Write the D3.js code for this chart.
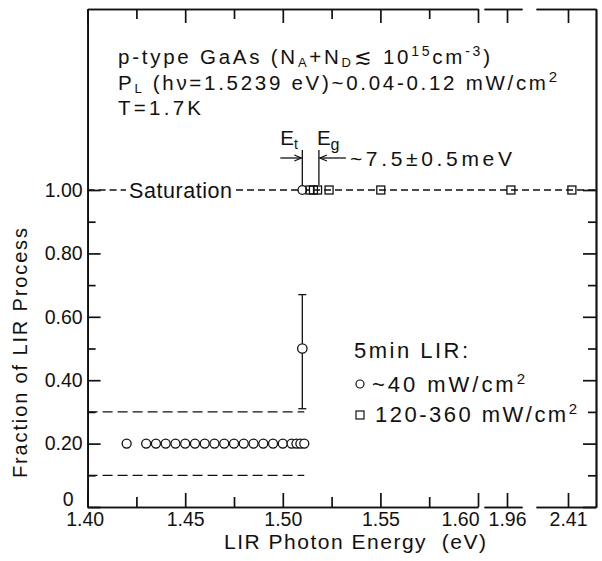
<!DOCTYPE html>
<html>
<head>
<meta charset="utf-8">
<script src="https://cdn.jsdelivr.net/npm/d3@7"></script>
<style>
  body { margin: 0; background: #fff; }
  text { font-family: "Liberation Sans", Arial, sans-serif; fill: #111; }
  .axis text { font-size: 19.5px; fill: #111; }
  .axis path, .axis line { stroke: #111; stroke-width: 1.7; }
</style>
</head>
<body>
<svg id="chart" width="602" height="561"></svg>
<script>
// ~40 mW/cm2 exposures (circles) at 20 % fraction
const lowPowerEnergy = [1.420, 1.430, 1.435, 1.440, 1.445, 1.450, 1.455, 1.460, 1.465,
  1.470, 1.475, 1.480, 1.485, 1.490, 1.495, 1.500, 1.5045, 1.507, 1.509, 1.511];
const lowPowerFraction = [0.20, 0.20, 0.20, 0.20, 0.20, 0.20, 0.20, 0.20, 0.20,
  0.20, 0.20, 0.20, 0.20, 0.20, 0.20, 0.20, 0.20, 0.20, 0.20, 0.20];

// circle with error bar near E_t
const errEnergy = [1.510];
const errFraction = [0.50];
const errLow = [0.31];
const errHigh = [0.67];

// circle reaching saturation at E_t
const satCircleEnergy = [1.510];
const satCircleFraction = [1.00];

// 120-360 mW/cm2 exposures (squares), all saturated
const highPowerEnergy = [1.5139, 1.5157, 1.5178, 1.5237, 1.5502, 1.962, 2.412];
const highPowerFraction = [1.00, 1.00, 1.00, 1.00, 1.00, 1.00, 1.00];

// dashed guide levels ending at E_t
const guideLevels = [0.30, 0.10];
const guideEnd = 1.511;
const saturationLevel = 1.00;

// characteristic energies
const energyEt = 1.510;
const energyEg = 1.5185;

// ticks
const xMajorTicks = [1.40, 1.45, 1.50, 1.55, 1.60];
const xMinorTicks = [1.425, 1.475, 1.525, 1.575];
const xSeg2Ticks = [1.96];
const xSeg3Ticks = [2.41];
const yMajorTicks = [0, 0.20, 0.40, 0.60, 0.80, 1.00];
const yMinorTicks = [0.10, 0.30, 0.50, 0.70, 0.90];

const svg = d3.select("#chart");

// broken energy axis: main range plus two short windows
const pxPerEv = (478 - 87.6) / 0.20;
const xMain = d3.scaleLinear().domain([1.40, 1.60]).range([87.6, 478]);
const xSeg2 = d3.scaleLinear().domain([1.96 - 23 / pxPerEv, 1.96 + 15 / pxPerEv]).range([484, 522]);
const xSeg3 = d3.scaleLinear().domain([2.41 - 32 / pxPerEv, 2.41 + 28 / pxPerEv]).range([536, 596]);
const X = e => e < 1.7 ? xMain(e) : (e < 2.2 ? xSeg2(e) : xSeg3(e));

const y = d3.scaleLinear().domain([0, 1.571]).range([507, 9]);
const yTop = y.range()[1], yBot = y.range()[0];
const xLeft = xMain.range()[0], xRight = xSeg3.range()[1];

// ---- frame and ticks ----
const fmtY = d => d === 0 ? "0" : d3.format(".2f")(d);

const left = svg.append("g").attr("class", "axis").attr("transform", `translate(${xLeft},0)`)
  .call(d3.axisLeft(y).tickValues(yMajorTicks).tickSizeInner(-13).tickSizeOuter(0).tickPadding(5).tickFormat(fmtY));
left.selectAll(".tick text").filter(d => d === 0).attr("dx", "-9").attr("dy", "-0.1em");
svg.append("g").attr("class", "axis").attr("transform", `translate(${xLeft},0)`)
  .call(d3.axisLeft(y).tickValues(yMinorTicks).tickSizeInner(-8).tickSizeOuter(0).tickFormat(""));
svg.append("g").attr("class", "axis").attr("transform", `translate(${xRight},0)`)
  .call(d3.axisRight(y).tickValues(yMajorTicks).tickSizeInner(-13).tickSizeOuter(0).tickFormat(""));
svg.append("g").attr("class", "axis").attr("transform", `translate(${xRight},0)`)
  .call(d3.axisRight(y).tickValues(yMinorTicks).tickSizeInner(-8).tickSizeOuter(0).tickFormat(""));

const segs = [
  { s: xMain, major: xMajorTicks, minor: xMinorTicks },
  { s: xSeg2, major: xSeg2Ticks, minor: [] },
  { s: xSeg3, major: xSeg3Ticks, minor: [] }
];
segs.forEach(seg => {
  const b = svg.append("g").attr("class", "axis").attr("transform", `translate(0,${yBot})`)
    .call(d3.axisBottom(seg.s).tickValues(seg.major).tickSizeInner(-14).tickSizeOuter(0).tickPadding(5)
      .tickFormat(d3.format(".2f")));
  b.selectAll(".tick text").filter(d => d === 1.60).attr("text-anchor", "end").attr("dx", "1");
  b.selectAll(".tick text").filter(d => d === 1.40).attr("dx", "-3");
  svg.append("g").attr("class", "axis").attr("transform", `translate(0,${yBot})`)
    .call(d3.axisBottom(seg.s).tickValues(seg.minor).tickSizeInner(-10).tickSizeOuter(0).tickFormat(""));
  svg.append("g").attr("class", "axis").attr("transform", `translate(0,${yTop})`)
    .call(d3.axisTop(seg.s).tickValues(seg.major).tickSizeInner(-14).tickSizeOuter(0).tickFormat(""));
  svg.append("g").attr("class", "axis").attr("transform", `translate(0,${yTop})`)
    .call(d3.axisTop(seg.s).tickValues(seg.minor).tickSizeInner(-10).tickSizeOuter(0).tickFormat(""));
});

// ---- axis titles ----
svg.append("text").attr("x", 224).attr("y", 549)
  .attr("textLength", 262).attr("lengthAdjust", "spacing")
  .style("font-size", "21px").text("LIR Photon Energy\u00A0\u00A0(eV)");
svg.append("text").attr("transform", "translate(27,478) rotate(-90)")
  .attr("textLength", 250).attr("lengthAdjust", "spacing")
  .style("font-size", "20px").text("Fraction of LIR Process");

// ---- dashed guides ----
const dash = svg.append("g").attr("fill", "none").attr("stroke", "#111").attr("stroke-width", 1.3);
guideLevels.forEach(v => {
  dash.append("line").attr("x1", xLeft).attr("x2", X(guideEnd)).attr("y1", y(v)).attr("y2", y(v))
    .attr("stroke-dasharray", "10,5");
});
// saturation line, interrupted by its label
const satY = y(saturationLevel);
dash.append("line").attr("x1", xLeft).attr("x2", 126).attr("y1", satY).attr("y2", satY).attr("stroke-dasharray", "7,4");
dash.append("line").attr("x1", 236).attr("x2", xRight).attr("y1", satY).attr("y2", satY).attr("stroke-dasharray", "7,4");
svg.append("text").attr("x", 129).attr("y", satY + 8)
  .attr("textLength", 103).attr("lengthAdjust", "spacing")
  .style("font-size", "21.5px").text("Saturation");

// ---- error bar ----
const eb = svg.append("g").attr("stroke", "#111").attr("stroke-width", 1.3);
errEnergy.forEach((e, i) => {
  const cx = X(e);
  eb.append("line").attr("x1", cx).attr("x2", cx).attr("y1", y(errLow[i])).attr("y2", y(errHigh[i]));
  eb.append("line").attr("x1", cx - 4).attr("x2", cx + 4).attr("y1", y(errLow[i])).attr("y2", y(errLow[i]));
  eb.append("line").attr("x1", cx - 4).attr("x2", cx + 4).attr("y1", y(errHigh[i])).attr("y2", y(errHigh[i]));
});

// ---- markers ----
const marks = svg.append("g").attr("fill", "#fff").attr("stroke", "#111").attr("stroke-width", 1.3);
marks.selectAll("circle.low").data(lowPowerEnergy).join("circle").attr("class", "low")
  .attr("cx", d => X(d)).attr("cy", (d, i) => y(lowPowerFraction[i])).attr("r", 4.5);
marks.selectAll("circle.err").data(errEnergy).join("circle").attr("class", "err")
  .attr("cx", d => X(d)).attr("cy", (d, i) => y(errFraction[i])).attr("r", 4.7);
marks.selectAll("circle.sat").data(satCircleEnergy).join("circle").attr("class", "sat")
  .attr("cx", d => X(d)).attr("cy", (d, i) => y(satCircleFraction[i])).attr("r", 4.3);
marks.selectAll("rect.high").data(highPowerEnergy).join("rect").attr("class", "high")
  .attr("x", d => X(d) - 4).attr("y", (d, i) => y(highPowerFraction[i]) - 4)
  .attr("width", 8).attr("height", 8).attr("fill", "none");

// ---- E_t / E_g markers ----
const xt = X(energyEt), xg = X(energyEg);
const arrowY = 158;
const mk = svg.append("g").attr("stroke", "#111").attr("stroke-width", 1.3).attr("fill", "none");
mk.append("line").attr("x1", xt).attr("x2", xt).attr("y1", 150).attr("y2", satY - 5);
mk.append("line").attr("x1", xg).attr("x2", xg).attr("y1", 150).attr("y2", satY - 5);
mk.append("line").attr("x1", xt - 22).attr("x2", xt - 1).attr("y1", arrowY).attr("y2", arrowY);
mk.append("path").attr("d", `M${xt - 8},${arrowY - 3} L${xt - 1},${arrowY} L${xt - 8},${arrowY + 3}`);
mk.append("line").attr("x1", xg + 1).attr("x2", xg + 27).attr("y1", arrowY).attr("y2", arrowY);
mk.append("path").attr("d", `M${xg + 8},${arrowY - 3} L${xg + 1},${arrowY} L${xg + 8},${arrowY + 3}`);

const et = svg.append("text").attr("x", xt - 22).attr("y", 145).style("font-size", "20.5px");
et.append("tspan").text("E");
et.append("tspan").attr("dy", 4).style("font-size", "14px").text("t");
const eg = svg.append("text").attr("x", xg - 2).attr("y", 145).style("font-size", "20.5px");
eg.append("tspan").text("E");
eg.append("tspan").attr("dy", 5).style("font-size", "16px").text("g");
svg.append("text").attr("x", xg + 31).attr("y", 166)
  .attr("textLength", 162).attr("lengthAdjust", "spacing")
  .style("font-size", "21px").text("~7.5\u00B10.5meV");

// ---- sample description ----
const l1 = svg.append("text").attr("x", 118).attr("y", 64)
  .attr("textLength", 372).attr("lengthAdjust", "spacing").style("font-size", "20.5px");
l1.append("tspan").text("p-type GaAs (N");
l1.append("tspan").attr("dy", 3).style("font-size", "13px").text("A");
l1.append("tspan").attr("dy", -3).text("+N");
l1.append("tspan").attr("dy", 3).style("font-size", "13px").text("D");
l1.append("tspan").attr("dy", -3).text("\u2272 10");
l1.append("tspan").attr("dy", -8).style("font-size", "14px").text("15");
l1.append("tspan").attr("dy", 8).text("cm");
l1.append("tspan").attr("dy", -8).style("font-size", "14px").text("-3");
l1.append("tspan").attr("dy", 8).text(")");

const l2 = svg.append("text").attr("x", 118).attr("y", 90)
  .attr("textLength", 439).attr("lengthAdjust", "spacing").style("font-size", "20.5px");
l2.append("tspan").text("P");
l2.append("tspan").attr("dy", 3).style("font-size", "13px").text("L");
l2.append("tspan").attr("dy", -3).text(" (h\u03BD=1.5239 eV)~0.04-0.12 mW/cm");
l2.append("tspan").attr("dy", -8).style("font-size", "15px").text("2");

svg.append("text").attr("x", 118).attr("y", 115)
  .attr("textLength", 83).attr("lengthAdjust", "spacing")
  .style("font-size", "20.5px").text("T=1.7K");

// ---- legend ----
svg.append("text").attr("x", 354).attr("y", 358)
  .attr("textLength", 114).attr("lengthAdjust", "spacing")
  .style("font-size", "22px").text("5min LIR:");
svg.append("circle").attr("cx", 360).attr("cy", 384).attr("r", 4)
  .attr("fill", "none").attr("stroke", "#111").attr("stroke-width", 1.2);
const lg1 = svg.append("text").attr("x", 372).attr("y", 392)
  .attr("textLength", 153).attr("lengthAdjust", "spacing").style("font-size", "22px");
lg1.append("tspan").text("~40 mW/cm");
lg1.append("tspan").attr("dy", -8).style("font-size", "15px").text("2");
svg.append("rect").attr("x", 356).attr("y", 411).attr("width", 8).attr("height", 8)
  .attr("fill", "none").attr("stroke", "#111").attr("stroke-width", 1.2);
const lg2 = svg.append("text").attr("x", 375).attr("y", 422)
  .attr("textLength", 202).attr("lengthAdjust", "spacing").style("font-size", "22px");
lg2.append("tspan").text("120-360 mW/cm");
lg2.append("tspan").attr("dy", -8).style("font-size", "15px").text("2");
</script>
</body>
</html>
